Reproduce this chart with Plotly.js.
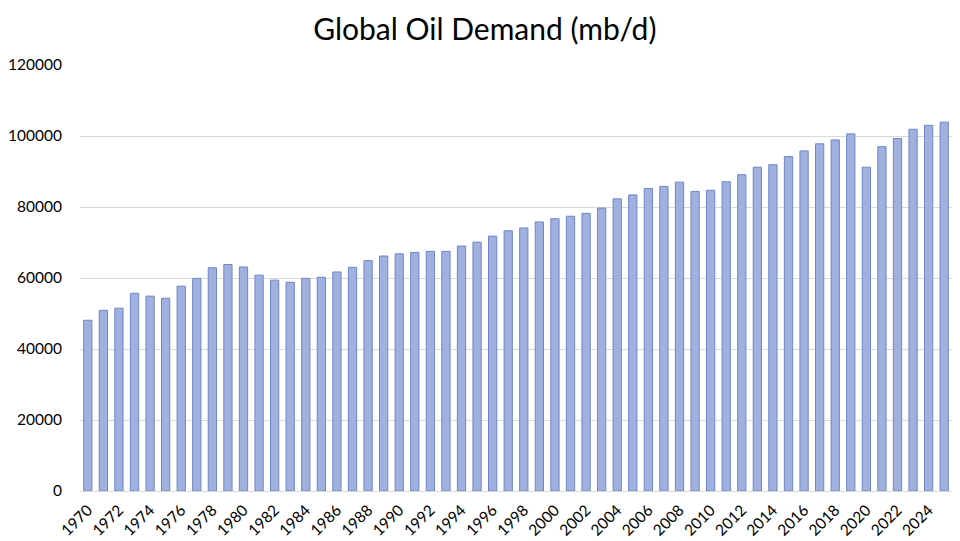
<!DOCTYPE html>
<html><head><meta charset="utf-8">
<script src="https://cdn.plot.ly/plotly-3.0.1.min.js"></script>
<style>html,body{margin:0;padding:0;background:#fff}#c{width:960px;height:541px}</style>
</head><body><div id="c"></div>
<script>
const years = [];
for (let y = 1970; y <= 2025; y++) years.push(String(y));
const demand = [48100, 50900, 51500, 55700, 54900, 54300, 57700, 59900, 62900, 63800,
  63100, 60800, 59400, 58800, 59900, 60200, 61700, 63000, 64900, 66200,
  66800, 67200, 67500, 67500, 69000, 70100, 71800, 73300, 74100, 75800,
  76700, 77400, 78200, 79700, 82300, 83400, 85200, 85800, 87000, 84400,
  84700, 87100, 89100, 91200, 91900, 94200, 95800, 97800, 98900, 100600,
  91200, 97000, 99300, 101900, 103000, 103900];
const yTicks = [0, 20000, 40000, 60000, 80000, 100000, 120000];
const xTicks = years.filter((y, i) => i % 2 === 0);

Plotly.newPlot('c', [{
  type: 'bar', x: years, y: demand,
  marker: {color: '#a0b1e0', line: {color: '#6d86c6', width: 1}},
  hoverinfo: 'x+y'
}], {
  width: 960, height: 541,
  margin: {l: 80, r: 8, t: 65, b: 50},
  paper_bgcolor: '#fff', plot_bgcolor: '#fff',
  bargap: 0.47,
  font: {family: 'Lato, "Open Sans", sans-serif', color: '#000'},
  title: {text: 'Global Oil Demand (mb/d)', x: 0.505, xanchor: 'center', y: 0.945, yanchor: 'middle',
    font: {size: 30, color: '#000', family: 'Lato, sans-serif'}},
  xaxis: {type: 'category', range: [-0.5, 55.5], tickmode: 'array', tickvals: xTicks, ticktext: xTicks,
    tickangle: -45, tickfont: {size: 15.5}, showgrid: false, showline: true, linecolor: '#d9d9d9',
    ticks: '', ticklabelstandoff: 3, automargin: false, fixedrange: true},
  yaxis: {range: [0, 120000], tickvals: yTicks, ticktext: yTicks.map(String), tickfont: {size: 15.5},
    showgrid: true, gridcolor: '#d9d9d9', zeroline: false, showline: false, ticks: '',
    ticklabelstandoff: 17, automargin: false, fixedrange: true},
  showlegend: false
}, {displayModeBar: false, staticPlot: true});
</script></body></html>
